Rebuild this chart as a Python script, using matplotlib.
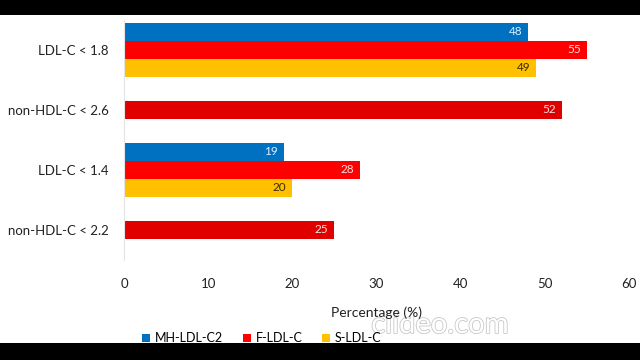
import numpy as np
import matplotlib.pyplot as plt
from matplotlib.patches import Rectangle
import matplotlib.patheffects as pe

plt.rcParams['font.family'] = ['Lato', 'DejaVu Sans']

# data
categories = ["LDL-C < 1.8", "non-HDL-C < 2.6", "LDL-C < 1.4", "non-HDL-C < 2.2"]
mh_ldl_c2 = [48, None, 19, None]
f_ldl_c = [55, 52, 28, 25]
s_ldl_c = [49, None, 20, None]
series_names = ["MH-LDL-C2", "F-LDL-C", "S-LDL-C"]
x_ticks = [0, 10, 20, 30, 40, 50, 60]

blue = '#0070C0'
red = '#FF0000'
red_dark = '#E00000'
yellow = '#FFC000'

fig = plt.figure(figsize=(6.4, 3.6), dpi=100)
fig.patch.set_facecolor('black')
# white canvas between the letterbox bands
fig.patches.append(Rectangle((0, 17 / 360), 1, 328 / 360, transform=fig.transFigure,
                             facecolor='white', edgecolor='none', zorder=-5))

ax = fig.add_axes([124 / 640, 100 / 360, 505 / 640, 240.5 / 360])
ax.set_facecolor('none')
ax.set_zorder(2)

h = 0.3
y = np.arange(len(categories))


def draw(vals, offset, color, txt_color, label):
    first = True
    for i, v in enumerate(vals):
        if v is None:
            continue
        c = color[i] if isinstance(color, list) else color
        ax.barh(y[i] + offset, v, height=h, color=c, label=label if first else None)
        first = False
        ax.text(v - 0.7, y[i] + offset, str(v), ha='right', va='center',
                fontsize=8.5, color=txt_color)


draw(mh_ldl_c2, -h, blue, '#DDEEFF', series_names[0])
draw(f_ldl_c, 0, [red, red_dark, red, red_dark], '#FFE0E0', series_names[1])
draw(s_ldl_c, h, yellow, '#3A2A00', series_names[2])

ax.set_ylim(3.5, -0.5)
ax.set_xlim(0, 60)
ax.set_yticks(y)
ax.set_yticklabels(categories, fontsize=9.5, color='#222222')
ax.set_xticks(x_ticks)
ax.set_xticklabels([str(t) for t in x_ticks], fontsize=9.5, color='#222222')
ax.tick_params(axis='both', length=0)
ax.tick_params(axis='y', pad=11)
ax.tick_params(axis='x', pad=13)
ax.set_xlabel('Percentage (%)', fontsize=10, color='#222222', labelpad=12)

for s in ['top', 'right', 'bottom']:
    ax.spines[s].set_visible(False)
ax.spines['left'].set_color('#E4E4E4')
ax.spines['left'].set_linewidth(0.8)

handles, labels = ax.get_legend_handles_labels()
fig.legend(handles, labels, loc='center', bbox_to_anchor=(262 / 640, 1 - 338 / 360),
           ncol=3, frameon=False, fontsize=9, handlelength=0.6, handleheight=0.6,
           handletextpad=0.4, columnspacing=1.6)

# watermark, kept behind the axes texts
fig.text(440 / 640, 1 - 325 / 360, 'clideo.com', ha='center', va='center', fontsize=21,
         color='white', zorder=1,
         path_effects=[pe.withStroke(linewidth=1.2, foreground='#C8C8C8')])

fig.savefig('out.png', dpi=100, facecolor=fig.get_facecolor())
